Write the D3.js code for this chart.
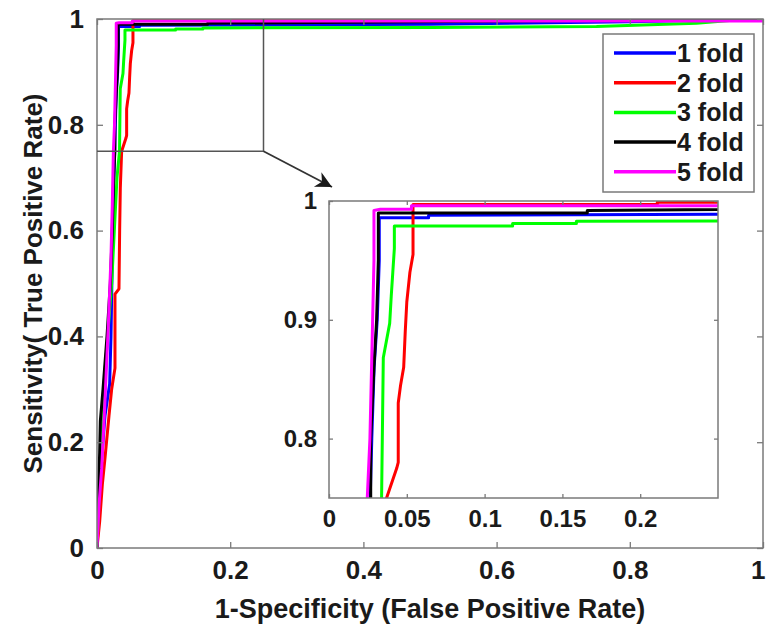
<!DOCTYPE html>
<html>
<head>
<meta charset="utf-8">
<script src="https://cdn.jsdelivr.net/npm/d3@7"></script>
<style>
  body { margin: 0; background: #fff; }
  svg { display: block; }
  text { font-family: "Liberation Sans", Arial, Helvetica, sans-serif; font-weight: bold; fill: #1a1a1a; }
</style>
</head>
<body>
<svg id="chart" width="766" height="629"></svg>
<script>
// ROC curves of a 5-fold cross-validation (false positive rate vs. true positive rate)
const foldNames = ["1 fold", "2 fold", "3 fold", "4 fold", "5 fold"];

const fold1Fpr = [0, 0.003, 0.006, 0.012, 0.019, 0.021, 0.023, 0.025, 0.0265, 0.0275, 0.029, 0.031, 0.0323, 0.0323, 0.064, 0.064, 0.5, 0.8, 1];
const fold1Tpr = [0, 0.08, 0.15, 0.25, 0.31, 0.40, 0.55, 0.68, 0.75, 0.80, 0.86, 0.90, 0.95, 0.986, 0.986, 0.988, 0.990, 0.995, 1];

const fold2Fpr = [0, 0.004, 0.008, 0.012, 0.018, 0.022, 0.027, 0.027, 0.033, 0.034, 0.035, 0.037, 0.0435, 0.0445, 0.0445, 0.046, 0.048, 0.049, 0.050, 0.052, 0.054, 0.054, 0.211, 0.211, 1];
const fold2Tpr = [0, 0.05, 0.12, 0.17, 0.25, 0.30, 0.34, 0.48, 0.49, 0.60, 0.68, 0.75, 0.775, 0.78, 0.83, 0.845, 0.86, 0.89, 0.915, 0.94, 0.955, 0.997, 0.997, 0.999, 1];

const fold3Fpr = [0, 0.003, 0.006, 0.010, 0.016, 0.022, 0.026, 0.030, 0.0338, 0.0349, 0.039, 0.040, 0.041, 0.042, 0.042, 0.118, 0.118, 0.159, 0.159, 0.5, 0.75, 0.9, 0.95, 1];
const fold3Tpr = [0, 0.10, 0.20, 0.30, 0.40, 0.50, 0.60, 0.70, 0.75, 0.868, 0.897, 0.92, 0.94, 0.96, 0.979, 0.979, 0.981, 0.981, 0.983, 0.984, 0.986, 0.992, 0.997, 1];

const fold4Fpr = [0, 0.002, 0.004, 0.005, 0.009, 0.015, 0.020, 0.023, 0.025, 0.0268, 0.0268, 0.0289, 0.0306, 0.0317, 0.0317, 0.166, 0.166, 1];
const fold4Tpr = [0, 0.10, 0.18, 0.24, 0.30, 0.40, 0.50, 0.60, 0.70, 0.75, 0.80, 0.86, 0.90, 0.95, 0.990, 0.990, 0.992, 1];

const fold5Fpr = [0, 0.003, 0.007, 0.012, 0.017, 0.021, 0.023, 0.0246, 0.0263, 0.028, 0.0289, 0.0289, 0.033, 0.053, 0.053, 1, 1];
const fold5Tpr = [0, 0.08, 0.15, 0.28, 0.42, 0.55, 0.65, 0.75, 0.80, 0.897, 0.95, 0.992, 0.993, 0.993, 0.996, 0.996, 1];

const mainXTicks = [0, 0.2, 0.4, 0.6, 0.8, 1];
const mainYTicks = [0, 0.2, 0.4, 0.6, 0.8, 1];
const zoomXDomain = [0, 0.25];
const zoomYDomain = [0.75, 1];
const zoomXTicks = [0, 0.05, 0.1, 0.15, 0.2];
const zoomYTicks = [0.8, 0.9, 1];

const xTitle = "1-Specificity (False Positive Rate)";
const yTitle = "Sensitivity( True Positive Rate)";

const foldColors = ["#0000ff", "#ff0000", "#00ff00", "#000000", "#ff00ff"];

const fprList = [fold1Fpr, fold2Fpr, fold3Fpr, fold4Fpr, fold5Fpr];
const tprList = [fold1Tpr, fold2Tpr, fold3Tpr, fold4Tpr, fold5Tpr];
const folds = foldNames.map((name, i) => ({
  name,
  color: foldColors[i],
  points: d3.zip(fprList[i], tprList[i])
}));

const svg = d3.select("#chart");
const frameColor = "#7a7a7a";
const fmt = d3.format("~g");

// ---------- main axes ----------
const main = { left: 97, right: 763, top: 19, bottom: 548 };
const x = d3.scaleLinear().domain([0, 1]).range([main.left, main.right]);
const y = d3.scaleLinear().domain([0, 1]).range([main.bottom, main.top]);

const defs = svg.append("defs");
defs.append("clipPath").attr("id", "clipMain")
  .append("rect").attr("x", main.left).attr("y", main.top)
  .attr("width", main.right - main.left).attr("height", main.bottom - main.top);

function drawAxes(g, xs, ys, xt, yt, box, tickLen, fontSize, pad) {
  const bottom = g.append("g").attr("class", "x-axis").attr("transform", `translate(0,${box.bottom})`)
    .call(d3.axisBottom(xs).tickValues(xt).tickSizeInner(-tickLen).tickSizeOuter(0).tickPadding(pad).tickFormat(fmt));
  const left = g.append("g").attr("transform", `translate(${box.left},0)`)
    .call(d3.axisLeft(ys).tickValues(yt).tickSizeInner(-tickLen).tickSizeOuter(0).tickPadding(pad).tickFormat(fmt));
  const top = g.append("g").attr("transform", `translate(0,${box.top})`)
    .call(d3.axisTop(xs).tickValues(xt).tickSizeInner(-tickLen).tickSizeOuter(0).tickFormat(""));
  const right = g.append("g").attr("transform", `translate(${box.right},0)`)
    .call(d3.axisRight(ys).tickValues(yt).tickSizeInner(-tickLen).tickSizeOuter(0).tickFormat(""));
  [bottom, left, top, right].forEach(a => {
    a.select(".domain").remove();
    a.selectAll(".tick line").attr("stroke", frameColor).attr("stroke-width", 1.3);
    a.selectAll(".tick text").attr("font-size", fontSize).attr("fill", "#1a1a1a")
      .attr("font-family", "\"Liberation Sans\", Arial, sans-serif").attr("font-weight", "bold");
  });
  g.append("rect")
    .attr("x", box.left).attr("y", box.top)
    .attr("width", box.right - box.left).attr("height", box.bottom - box.top)
    .attr("fill", "none").attr("stroke", frameColor).attr("stroke-width", 1.5);
  return bottom;
}

const mainG = svg.append("g");
const lineMain = d3.line().x(d => x(d[0])).y(d => y(d[1]));
mainG.append("g").attr("clip-path", "url(#clipMain)")
  .selectAll("path").data(folds).join("path")
  .attr("d", d => lineMain(d.points))
  .attr("fill", "none").attr("stroke", d => d.color)
  .attr("stroke-width", 3).attr("stroke-linejoin", "round");
const mainBottom = drawAxes(mainG, x, y, mainXTicks, mainYTicks, main, 6, 26, 13);
// the last tick label sits at the right window edge: keep it inside
mainBottom.selectAll(".tick text").filter(d => d === 1).attr("text-anchor", "end").attr("dx", 2);

// axis titles
svg.append("text").attr("x", (main.left + main.right) / 2).attr("y", 618)
  .attr("text-anchor", "middle").attr("font-size", 27).text(xTitle);
svg.append("text")
  .attr("transform", `translate(42,${(main.top + main.bottom) / 2}) rotate(-90)`)
  .attr("text-anchor", "middle").attr("font-size", 26).text(yTitle);

// zoom region marker and arrow
const zoomRectColor = "#555";
mainG.append("path")
  .attr("d", `M${x(zoomXDomain[0])},${y(zoomYDomain[0])}H${x(zoomXDomain[1])}V${y(zoomYDomain[1])}`)
  .attr("fill", "none").attr("stroke", zoomRectColor).attr("stroke-width", 1.5);

defs.append("marker").attr("id", "arrowHead")
  .attr("viewBox", "0 0 10 10").attr("refX", 10).attr("refY", 5)
  .attr("markerWidth", 10).attr("markerHeight", 9).attr("markerUnits", "strokeWidth")
  .attr("orient", "auto")
  .append("path").attr("d", "M0,0 L10,5 L0,10 L3,5 Z").attr("fill", "#1a1a1a");

// ---------- inset (magnified view) ----------
const inset = { left: 329, right: 718, top: 201, bottom: 498 };
const xi = d3.scaleLinear().domain(zoomXDomain).range([inset.left, inset.right]);
const yi = d3.scaleLinear().domain(zoomYDomain).range([inset.bottom, inset.top]);

svg.append("line")
  .attr("x1", x(zoomXDomain[1])).attr("y1", y(zoomYDomain[0]))
  .attr("x2", inset.left + 3).attr("y2", inset.top - 14)
  .attr("stroke", "#333").attr("stroke-width", 1.8)
  .attr("marker-end", "url(#arrowHead)");

defs.append("clipPath").attr("id", "clipInset")
  .append("rect").attr("x", inset.left).attr("y", inset.top)
  .attr("width", inset.right - inset.left).attr("height", inset.bottom - inset.top);

const insetG = svg.append("g");
insetG.append("rect")
  .attr("x", inset.left).attr("y", inset.top)
  .attr("width", inset.right - inset.left).attr("height", inset.bottom - inset.top)
  .attr("fill", "#fff");
const lineInset = d3.line().x(d => xi(d[0])).y(d => yi(d[1]));
insetG.append("g").attr("clip-path", "url(#clipInset)")
  .selectAll("path").data(folds).join("path")
  .attr("d", d => lineInset(d.points))
  .attr("fill", "none").attr("stroke", d => d.color)
  .attr("stroke-width", 3).attr("stroke-linejoin", "round");
drawAxes(insetG, xi, yi, zoomXTicks, zoomYTicks, inset, 4, 24, 12);

// ---------- legend ----------
const legend = svg.append("g");
const lg = { x: 603, y: 34, w: 151, h: 158, rowH: 29.7, firstRow: 19 };
legend.append("rect").attr("x", lg.x).attr("y", lg.y).attr("width", lg.w).attr("height", lg.h)
  .attr("fill", "#fff").attr("stroke", frameColor).attr("stroke-width", 1.5);
const rows = legend.selectAll("g.row").data(folds).join("g").attr("class", "row")
  .attr("transform", (d, i) => `translate(${lg.x},${lg.y + lg.firstRow + i * lg.rowH})`);
rows.append("line").attr("x1", 11).attr("x2", 73).attr("y1", 0).attr("y2", 0)
  .attr("stroke", d => d.color).attr("stroke-width", 3.5);
rows.append("text").attr("x", 74).attr("y", 9).attr("font-size", 25).text(d => d.name);
</script>
</body>
</html>
